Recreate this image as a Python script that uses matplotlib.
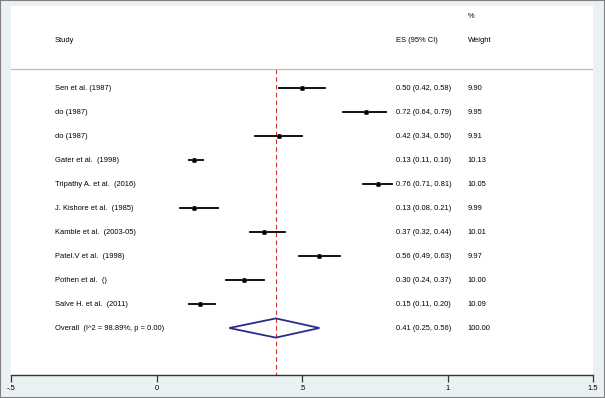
import matplotlib.pyplot as plt
from matplotlib.patches import Polygon, Rectangle

# datos del forest plot
studies = ['Sen et al. (1987)', 'do (1987)', 'do (1987)', 'Gater et al.  (1998)',
           'Tripathy A. et al.  (2016)', 'J. Kishore et al.  (1985)', 'Kamble et al.  (2003-05)',
           'Patel.V et al.  (1998)', 'Pothen et al.  ()', 'Salve H. et al.  (2011)']
es = [0.50, 0.72, 0.42, 0.13, 0.76, 0.13, 0.37, 0.56, 0.30, 0.15]
lo = [0.42, 0.64, 0.34, 0.11, 0.71, 0.08, 0.32, 0.49, 0.24, 0.11]
hi = [0.58, 0.79, 0.50, 0.16, 0.81, 0.21, 0.44, 0.63, 0.37, 0.20]
weights = [9.90, 9.95, 9.91, 10.13, 10.05, 9.99, 10.01, 9.97, 10.00, 10.09]

overall_label = 'Overall  (I^2 = 98.89%, p = 0.00)'
overall_es, overall_lo, overall_hi = 0.41, 0.25, 0.56
overall_weight = 100.00

xticks = [-0.5, 0, 0.5, 1, 1.5]
xticklabels = ['-.5', '0', '.5', '1', '1.5']

plt.rcParams['font.family'] = ['Liberation Sans', 'DejaVu Sans']
fs = 5.4

fig = plt.figure(figsize=(6.05, 3.98), dpi=100, facecolor='#e9f1f3')
W, H = 605, 398
ax = fig.add_axes([11 / W, (H - 375) / H, 582 / W, 369 / H])
ax.set_facecolor('white')

n = len(studies)
for i in range(n):
    ax.plot([lo[i], hi[i]], [i, i], color='black', lw=1.3, zorder=3)
    ax.plot(es[i], i, marker='s', color='#a8a8a8', ms=3.6, mew=0, zorder=3)
    ax.plot(es[i], i, marker='o', color='black', ms=3.4, mew=0, zorder=4)
    ax.text(-0.349, i, studies[i], fontsize=fs, va='center', ha='left')
    ax.text(0.823, i, f'{es[i]:.2f} ({lo[i]:.2f}, {hi[i]:.2f})', fontsize=fs, va='center')
    ax.text(1.07, i, f'{weights[i]:.2f}', fontsize=fs, va='center')

# diamante del efecto global
yo = n
diamond = Polygon([[overall_lo, yo], [overall_es, yo - 0.4], [overall_hi, yo], [overall_es, yo + 0.4]],
                  closed=True, fill=False, edgecolor='#2b2b8c', lw=1.3, zorder=3)
ax.add_patch(diamond)
ax.text(-0.349, yo, overall_label, fontsize=fs, va='center')
ax.text(0.823, yo, f'{overall_es:.2f} ({overall_lo:.2f}, {overall_hi:.2f})', fontsize=fs, va='center')
ax.text(1.07, yo, f'{overall_weight:.2f}', fontsize=fs, va='center')

# linea del efecto global
ax.plot([overall_es, overall_es], [-0.79, 11.958], color='#d03030', lw=0.8, ls=(0, (4, 3)), zorder=2)

# encabezados
ax.text(-0.349, -2, 'Study', fontsize=fs, va='center')
ax.text(0.823, -2, 'ES (95% CI)', fontsize=fs, va='center')
ax.text(1.07, -2, 'Weight', fontsize=fs, va='center')
ax.text(1.07, -3, '%', fontsize=fs, va='center')
ax.axhline(-0.79, color='#bbbbbb', lw=0.9)

ax.set_xlim(-0.5, 1.5)
ax.set_ylim(11.958, -3.417)
for s in ['left', 'top', 'right']:
    ax.spines[s].set_visible(False)
ax.spines['bottom'].set_color('#333333')
ax.spines['bottom'].set_linewidth(1)
ax.set_yticks([])
ax.set_xticks(xticks)
ax.set_xticklabels(xticklabels, fontsize=fs)
ax.tick_params(axis='x', direction='out', length=5, width=0.9, color='#333333', pad=2)

# borde exterior
fig.add_artist(Rectangle((0, 0), 1, 1, transform=fig.transFigure, fill=False,
                         edgecolor='#7f7f7f', lw=1.5))

plt.savefig('out.png', dpi=100, facecolor=fig.get_facecolor())
